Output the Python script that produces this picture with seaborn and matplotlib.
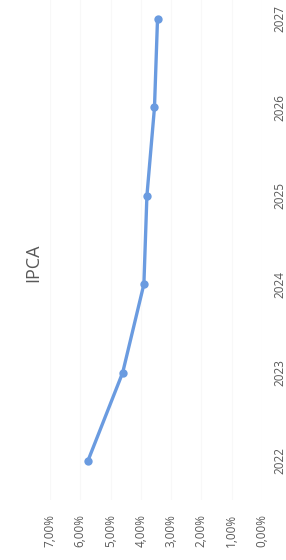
import matplotlib
matplotlib.use("Agg")
import matplotlib.pyplot as plt
import seaborn as sns
from matplotlib.ticker import FuncFormatter

years = [2022, 2023, 2024, 2025, 2026, 2027]
ipca = [5.75, 4.60, 3.90, 3.80, 3.55, 3.45]
pct_ticks = [0, 1, 2, 3, 4, 5, 6, 7]

sns.set_style("white")
plt.rcParams['font.family'] = ['Open Sans', 'DejaVu Sans']

W, H = 286, 560
fig = plt.figure(figsize=(W / 100, H / 100), dpi=100)
# chart is shown turned a quarter turn: values run right-to-left, years bottom-to-top
ax = fig.add_axes([50 / W, 1 - 500 / H, 212 / W, 500 / H])

sns.lineplot(x=ipca, y=years, orient="y", marker="o", color="#6a9be0",
             linewidth=2.4, markersize=6, markeredgewidth=0, ax=ax)

ax.set_xlim(7, 0)
ax.set_ylim(2022 - 39 / 88.4, 2027 + 19 / 88.4)
ax.set_xticks(pct_ticks)
ax.xaxis.set_major_formatter(FuncFormatter(lambda v, p: f"{v:.2f}%".replace(".", ",")))
ax.set_yticks(years)
ax.yaxis.tick_right()
ax.tick_params(axis="x", labelrotation=90, pad=10, length=0, labelsize=8.5, labelcolor="#595959")
ax.tick_params(axis="y", labelrotation=90, pad=8, length=0, labelsize=8.5, labelcolor="#595959")
for lab in ax.get_yticklabels():
    lab.set_va("center")
ax.grid(axis="x", color="#f8f8f8", linewidth=0.8)
sns.despine(ax=ax, left=True, bottom=True)

fig.text(33 / W, 1 - 263 / H, "IPCA", rotation=90, ha="center", va="center",
         fontsize=13, color="#595959")

fig.savefig("out.png", dpi=100)
